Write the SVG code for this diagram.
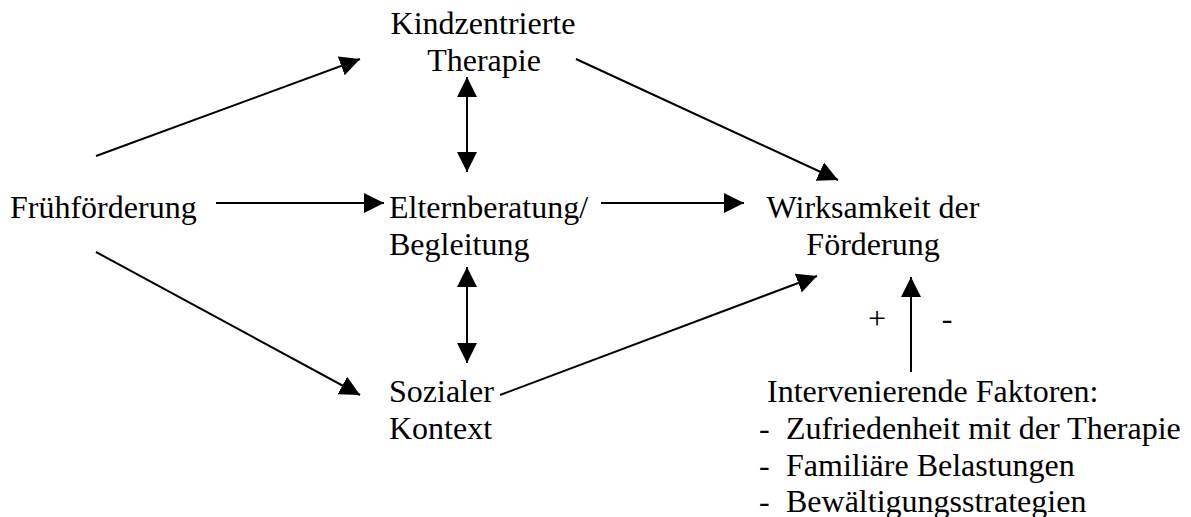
<svg xmlns="http://www.w3.org/2000/svg" width="1191" height="517" viewBox="0 0 1191 517">
  <style>
    text { font-family: "Liberation Serif", "Times New Roman", serif; font-size: 32px; fill: #000; }
    .c { text-anchor: middle; }
    .conn line { stroke: #000; stroke-width: 2; fill: none; }
  </style>
  <defs>
    <marker id="ah" markerUnits="userSpaceOnUse" markerWidth="20" markerHeight="20" refX="20" refY="10" orient="auto-start-reverse" viewBox="0 0 20 20">
      <path d="M0,0 L20,10 L0,20 z" fill="#000"/>
    </marker>
  </defs>
  <rect width="1191" height="517" fill="#fff"/>

  <g id="n-fruehfoerderung">
    <text x="10" y="218">Frühförderung</text>
  </g>
  <g id="n-kindzentrierte">
    <text class="c" x="483" y="34">Kindzentrierte</text>
    <text class="c" x="484" y="71">Therapie</text>
  </g>
  <g id="n-elternberatung">
    <text x="389" y="218">Elternberatung/</text>
    <text x="389" y="255">Begleitung</text>
  </g>
  <g id="n-sozialer">
    <text x="389" y="402">Sozialer</text>
    <text x="389" y="439">Kontext</text>
  </g>
  <g id="n-wirksamkeit">
    <text class="c" x="873" y="218">Wirksamkeit der</text>
    <text class="c" x="873" y="255">Förderung</text>
  </g>
  <g id="n-faktoren">
    <text x="767" y="402">Intervenierende Faktoren:</text>
    <text x="759" y="439">-</text><text x="786" y="439">Zufriedenheit mit der Therapie</text>
    <text x="759" y="476">-</text><text x="786" y="476">Familiäre Belastungen</text>
    <text x="759" y="512">-</text><text x="786" y="512">Bewältigungsstrategien</text>
  </g>

  <g id="connectors" class="conn">
    <line x1="96" y1="156" x2="360" y2="59" marker-end="url(#ah)"/>
    <line x1="216" y1="203" x2="384" y2="203" marker-end="url(#ah)"/>
    <line x1="96" y1="252" x2="360" y2="395" marker-end="url(#ah)"/>
    <line x1="467" y1="77" x2="467" y2="172" marker-start="url(#ah)" marker-end="url(#ah)"/>
    <line x1="467" y1="267" x2="467" y2="363" marker-start="url(#ah)" marker-end="url(#ah)"/>
    <line x1="576" y1="59" x2="838" y2="180" marker-end="url(#ah)"/>
    <line x1="601" y1="203" x2="744" y2="203" marker-end="url(#ah)"/>
    <line x1="500" y1="395" x2="817" y2="276" marker-end="url(#ah)"/>
    <line x1="911" y1="372" x2="911" y2="277" marker-end="url(#ah)"/>
    <text class="c" x="877" y="329">+</text>
    <text class="c" x="947" y="329">-</text>
  </g>
</svg>
